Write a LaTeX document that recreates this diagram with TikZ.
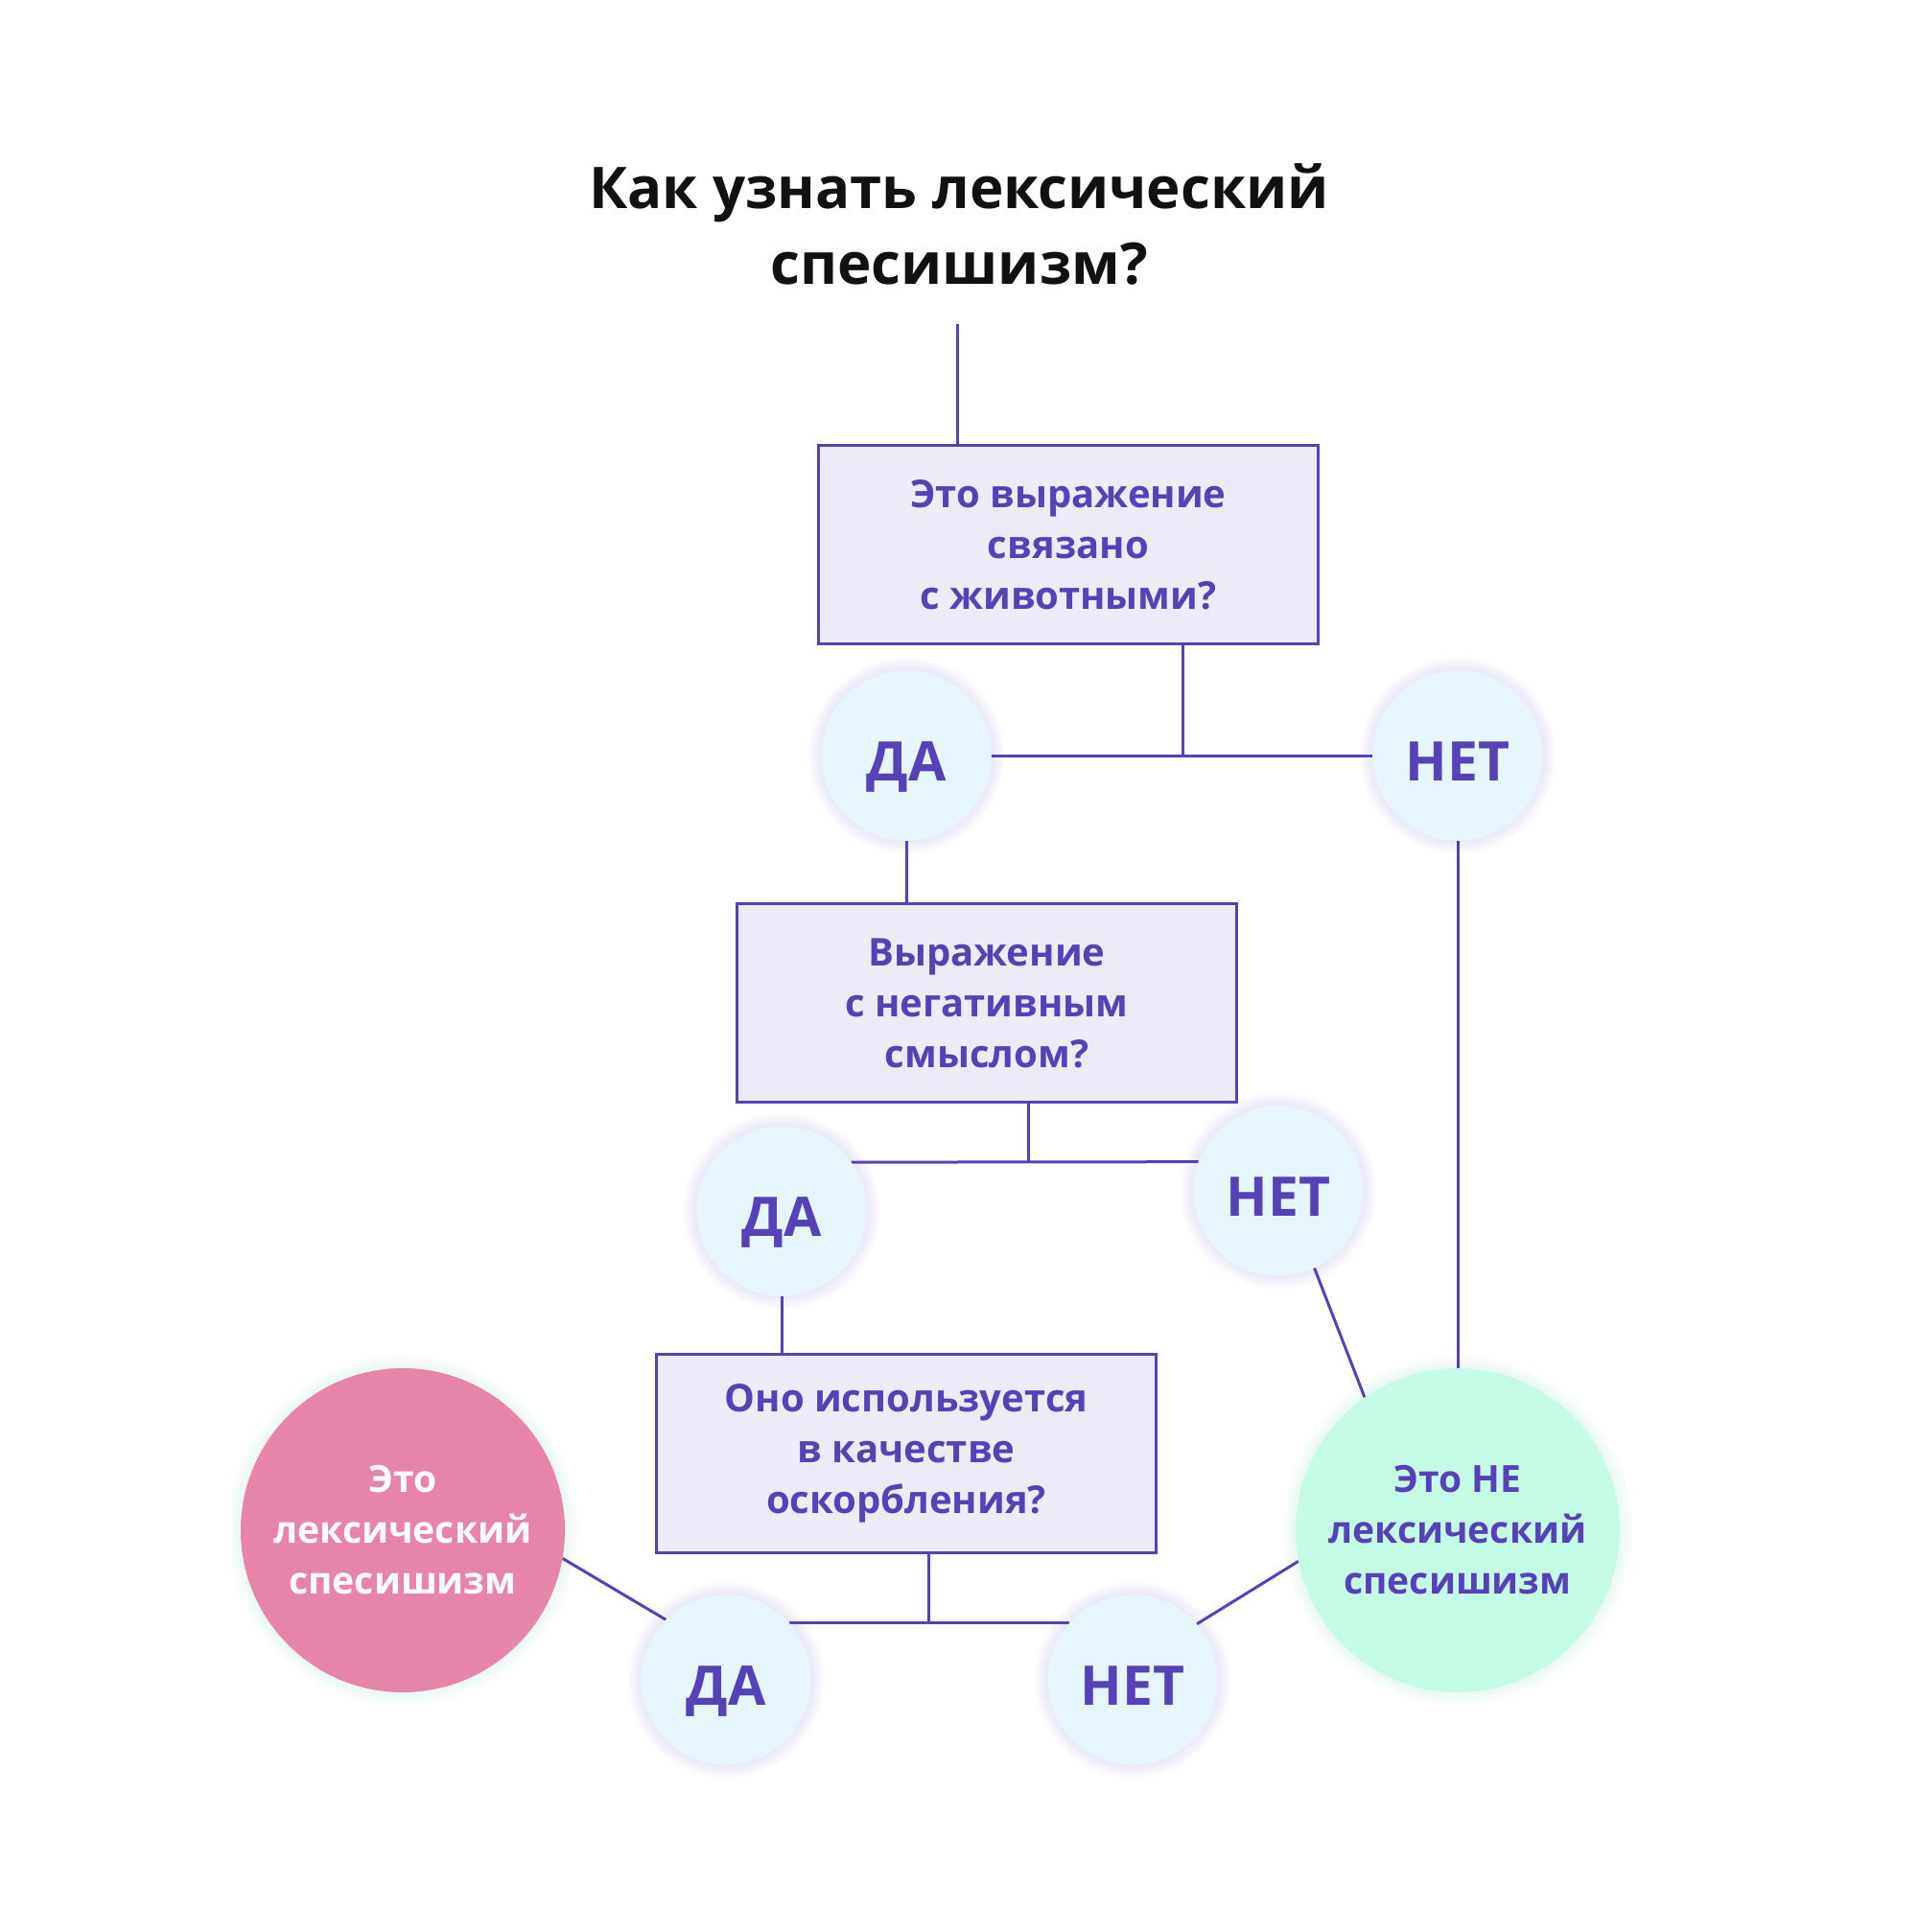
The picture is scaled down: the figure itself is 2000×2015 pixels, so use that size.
\documentclass[tikz,border=0pt]{standalone}
\usepackage{fontspec}
\setmainfont{Open Sans}
\usetikzlibrary{backgrounds}
\definecolor{purp}{HTML}{5641B6}
\definecolor{boxfill}{HTML}{EEEAF8}
\definecolor{cyanfill}{HTML}{E6F6FC}
\definecolor{pinkfill}{HTML}{E784AA}
\definecolor{greenfill}{HTML}{C4FBE4}
\definecolor{halo}{HTML}{D2CAEE}
\definecolor{halog}{HTML}{CFEFE2}
\definecolor{titlecol}{HTML}{111111}
\tikzset{
  qbox/.style={draw=purp, line width=3pt, fill=boxfill, minimum width=521pt, minimum height=207pt,
    inner sep=0pt, text=purp, align=center, font=\fontsize{40}{53}\selectfont\bfseries},
  ans/.style={circle, fill=cyanfill, minimum size=177pt, inner sep=0pt, text=purp,
    text height=52pt, text depth=0pt,
    font=\fontsize{57}{60}\selectfont\bfseries},
  res/.style={circle, minimum size=338pt, inner sep=0pt, align=center,
    font=\fontsize{39}{53}\selectfont\bfseries},
  conn/.style={draw=purp, line width=3pt},
}
\begin{document}
\begin{tikzpicture}[x=1pt,y=-1pt]
\useasboundingbox (0,0) rectangle (2000,2015);
\node[font=\fontsize{60}{79}\selectfont\bfseries, text=titlecol, align=center] (title) at (1000,234)
  {Как узнать лексический\\спесишизм?};
\coordinate (tstart) at (998,338);

\node[qbox] (q1) at (1114,568) {Это выражение\\связано\\с животными?};
\node[ans] (y1) at (945,788) {ДА};
\node[ans] (n1) at (1520,788) {НЕТ};
\coordinate (j1) at (1233,788);

\node[qbox] (q2) at (1029,1046) {Выражение\\с негативным\\смыслом?};
\node[ans] (y2) at (815,1263) {ДА};
\node[ans] (n2) at (1333,1242) {НЕТ};
\coordinate (j2) at (1072,1212);

\node[qbox] (q3) at (945,1516) {Оно используется\\в качестве\\оскорбления?};
\node[ans] (y3) at (757,1752) {ДА};
\node[ans] (n3) at (1181,1752) {НЕТ};
\coordinate (j3) at (968,1693);

\node[res, fill=pinkfill, text=white] (p) at (420,1596) {Это\\лексический\\спесишизм};
\node[res, fill=greenfill, text=purp] (g) at (1520,1596) {Это НЕ\\лексический\\спесишизм};

\begin{scope}[on background layer]
  \foreach \n in {y1,n1,y2,n2,y3,n3} {
    \foreach \k in {2,4,...,14} {
      \fill[halo, opacity=0.07] (\n) circle[radius={(88.5+\k)*1pt}];
    }
  }
  \foreach \n in {p,g} {
    \foreach \k in {2,4,...,14} {
      \fill[halog, opacity=0.07] (\n) circle[radius={(169+\k)*1pt}];
    }
  }
  \draw[conn] (tstart) -- (tstart |- q1.north);
  \draw[conn] (q1.south -| j1) -- (j1);
  \draw[conn] (y1.east) -- (n1.west);
  \draw[conn] (y1.south) -- (q2.north -| y1);
  \draw[conn] (n1.south) -- (g.north);
  \draw[conn] (q2.south -| j2) -- (j2);
  \draw[conn] (y2.35) -- (n2.160);
  \draw[conn] (y2.south) -- (q3.north -| y2);
  \draw[conn] (n2.-65) -- (g.125);
  \draw[conn] (q3.south -| j3) -- (j3);
  \draw[conn] (y3.42) -- (n3.138);
  \draw[conn] (p.-10) -- (y3.135);
  \draw[conn] (n3.41) -- (g.191);
\end{scope}
\end{tikzpicture}
\end{document}
